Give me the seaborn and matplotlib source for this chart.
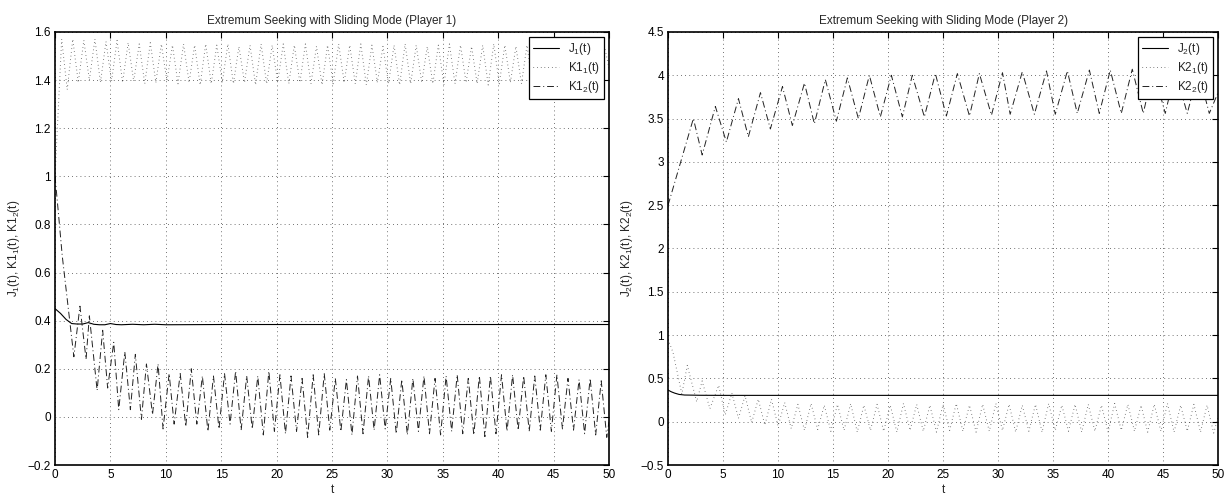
import numpy as np
import pandas as pd
import matplotlib
matplotlib.use("Agg")
import matplotlib.pyplot as plt
import seaborn as sns

# ---------------- Player 1 data ----------------
j1_t = [0, 0.5, 1.0, 1.5, 2.0, 2.5, 3.0, 3.5, 4.0, 4.5, 5.0, 5.5, 6, 7, 8, 9, 10, 15, 20, 30, 40, 50]
j1_v = [0.45, 0.43, 0.405, 0.388, 0.386, 0.386, 0.392, 0.385, 0.383, 0.383, 0.388, 0.384,
        0.383, 0.385, 0.383, 0.385, 0.383, 0.384, 0.384, 0.384, 0.384, 0.384]

k11_peak_t = [0.6, 1.6, 2.6, 3.6, 4.6, 5.6, 6.6, 7.6, 8.6, 9.6, 10.6, 11.6, 12.6, 13.6, 14.6,
              15.6, 16.6, 17.6, 18.6, 19.6, 20.6, 21.6, 22.6, 23.6, 24.6, 25.6, 26.6, 27.6,
              28.6, 29.6, 30.6, 31.6, 32.6, 33.6, 34.6, 35.6, 36.6, 37.6, 38.6, 39.6, 40.6,
              41.6, 42.6, 43.6, 44.6, 45.6, 46.6, 47.6, 48.6, 49.6]
k11_peak_v = [1.57, 1.57, 1.565, 1.57, 1.56, 1.565, 1.555, 1.55, 1.555, 1.55,
              1.545, 1.55, 1.545, 1.55, 1.545, 1.55, 1.54, 1.545, 1.55, 1.545,
              1.55, 1.545, 1.55, 1.54, 1.545, 1.55, 1.545, 1.55, 1.545, 1.54,
              1.545, 1.55, 1.545, 1.54, 1.545, 1.55, 1.545, 1.54, 1.545, 1.55,
              1.545, 1.54, 1.545, 1.55, 1.545, 1.54, 1.545, 1.55, 1.545, 1.54]
k11_trough_t = [1.1, 2.1, 3.1, 4.1, 5.1, 6.1, 7.1, 8.1, 9.1, 10.1, 11.1, 12.1, 13.1, 14.1,
                15.1, 16.1, 17.1, 18.1, 19.1, 20.1, 21.1, 22.1, 23.1, 24.1, 25.1, 26.1, 27.1,
                28.1, 29.1, 30.1, 31.1, 32.1, 33.1, 34.1, 35.1, 36.1, 37.1, 38.1, 39.1, 40.1,
                41.1, 42.1, 43.1, 44.1, 45.1, 46.1, 47.1, 48.1, 49.1]
k11_trough_v = [1.36, 1.39, 1.40, 1.39, 1.395, 1.39, 1.395, 1.385, 1.39, 1.395,
                1.385, 1.39, 1.38, 1.385, 1.39, 1.385, 1.39, 1.38, 1.385, 1.39,
                1.385, 1.39, 1.385, 1.38, 1.385, 1.39, 1.385, 1.38, 1.39, 1.385,
                1.38, 1.385, 1.39, 1.385, 1.38, 1.385, 1.39, 1.385, 1.38, 1.385,
                1.39, 1.385, 1.38, 1.385, 1.39, 1.385, 1.38, 1.385, 1.39]
k11_start = (0.0, 1.0)
k11_end = (50.0, 1.45)

k12_early_t = [0, 0.3, 0.65, 1.2, 1.7, 2.25, 2.8, 3.1, 3.8, 4.3, 4.75, 5.3, 5.75, 6.3, 6.8,
               7.25, 7.8, 8.25, 8.8, 9.3, 9.75, 10.3, 10.75, 11.3, 11.8, 12.3, 12.8, 13.3,
               13.8, 14.3, 14.8]
k12_early_v = [1.0, 0.85, 0.67, 0.45, 0.25, 0.46, 0.24, 0.42, 0.11, 0.36, 0.12, 0.31, 0.03,
               0.27, 0.03, 0.26, -0.01, 0.22, 0.01, 0.22, -0.05, 0.18, -0.03, 0.18, -0.04,
               0.20, -0.03, 0.17, -0.06, 0.17, -0.05]
k12_peak_t = [15.3, 16.3, 17.3, 18.3, 19.3, 20.3, 21.3, 22.3, 23.3, 24.3, 25.3, 26.3, 27.3,
              28.3, 29.3, 30.3, 31.3, 32.3, 33.3, 34.3, 35.3, 36.3, 37.3, 38.3, 39.3, 40.3,
              41.3, 42.3, 43.3, 44.3, 45.3, 46.3, 47.3, 48.3, 49.3]
k12_peak_v = [0.18, 0.19, 0.17, 0.17, 0.19, 0.175, 0.17, 0.16, 0.175, 0.18, 0.16, 0.155,
              0.17, 0.17, 0.175, 0.16, 0.155, 0.16, 0.17, 0.16, 0.17, 0.175, 0.16, 0.17,
              0.17, 0.175, 0.175, 0.17, 0.17, 0.175, 0.175, 0.16, 0.155, 0.16, 0.15]
k12_trough_t = [15.8, 16.8, 17.8, 18.8, 19.8, 20.8, 21.8, 22.8, 23.8, 24.8, 25.8, 26.8,
                27.8, 28.8, 29.8, 30.8, 31.8, 32.8, 33.8, 34.8, 35.8, 36.8, 37.8, 38.8,
                39.8, 40.8, 41.8, 42.8, 43.8, 44.8, 45.8, 46.8, 47.8, 48.8, 49.8]
k12_trough_v = [-0.03, -0.055, -0.05, -0.075, -0.06, -0.07, -0.06, -0.085, -0.075, -0.055,
                -0.06, -0.075, -0.07, -0.055, -0.05, -0.07, -0.075, -0.06, -0.07, -0.075,
                -0.06, -0.07, -0.075, -0.082, -0.07, -0.06, -0.055, -0.06, -0.055, -0.06,
                -0.05, -0.055, -0.07, -0.075, -0.085]
k12_end = (50.0, -0.02)

# ---------------- Player 2 data ----------------
j2_t = [0, 0.3, 0.6, 1.0, 1.5, 2, 3, 5, 10, 20, 30, 40, 50]
j2_v = [0.365, 0.345, 0.33, 0.315, 0.308, 0.307, 0.305, 0.304, 0.304, 0.304, 0.304, 0.304, 0.304]

k21_early_t = [0, 0.45, 1.25, 1.75, 2.6, 3.1, 3.8, 4.6, 5.2, 5.8, 6.4, 7.0, 7.6, 8.2, 8.8,
               9.4, 10.0]
k21_early_v = [0.95, 0.8, 0.32, 0.65, 0.23, 0.47, 0.15, 0.42, 0.08, 0.33, 0.04, 0.30, -0.01,
               0.26, -0.04, 0.26, -0.05]
k21_peak_t = [10.6, 11.8, 13.0, 14.2, 15.4, 16.6, 17.8, 19.0, 20.2, 21.4, 22.6, 23.8, 25.0,
              26.2, 27.4, 28.6, 29.8, 31.0, 32.2, 33.4, 34.6, 35.8, 37.0, 38.2, 39.4, 40.6,
              41.8, 43.0, 44.2, 45.4, 46.6, 47.8, 49.0]
k21_peak_v = [0.22, 0.2, 0.21, 0.19, 0.2, 0.21, 0.19, 0.2, 0.19, 0.21, 0.2, 0.19, 0.2,
              0.21, 0.19, 0.2, 0.21, 0.2, 0.19, 0.2, 0.21, 0.19, 0.2, 0.2, 0.19, 0.21,
              0.2, 0.19, 0.2, 0.21, 0.19, 0.2, 0.19]
k21_trough_t = [11.2, 12.4, 13.6, 14.8, 16.0, 17.2, 18.4, 19.6, 20.8, 22.0, 23.2, 24.4,
                25.6, 26.8, 28.0, 29.2, 30.4, 31.6, 32.8, 34.0, 35.2, 36.4, 37.6, 38.8,
                40.0, 41.2, 42.4, 43.6, 44.8, 46.0, 47.2, 48.4, 49.6]
k21_trough_v = [-0.08, -0.1, -0.09, -0.11, -0.1, -0.12, -0.1, -0.11, -0.12, -0.1, -0.11,
                -0.12, -0.1, -0.11, -0.12, -0.11, -0.1, -0.12, -0.11, -0.12, -0.1, -0.11,
                -0.12, -0.11, -0.12, -0.1, -0.11, -0.12, -0.11, -0.12, -0.11, -0.12, -0.13]
k21_end = (50.0, 0.05)

k22_t = [0, 2.3, 3.1, 4.3, 5.3, 6.4, 7.3, 8.4, 9.3, 10.4, 11.3, 12.4, 13.3, 14.3, 15.3, 16.3,
         17.3, 18.3, 19.3, 20.3, 21.3, 22.2, 23.3, 24.3, 25.3, 26.3, 27.4, 28.3, 29.4, 30.4,
         31.1, 32.2, 33.3, 34.4, 35.2, 36.3, 37.2, 38.3, 39.2, 40.2, 41.2, 42.2, 43.2, 44.1,
         45.2, 46.1, 47.2, 48.2, 49.2, 50.0]
k22_v = [2.5, 3.5, 3.08, 3.64, 3.23, 3.73, 3.29, 3.8, 3.38, 3.87, 3.42, 3.91, 3.44, 3.95,
         3.47, 3.97, 3.5, 4.0, 3.52, 4.0, 3.52, 4.0, 3.52, 4.02, 3.53, 4.02, 3.53, 4.02,
         3.54, 4.03, 3.55, 4.04, 3.55, 4.05, 3.55, 4.05, 3.56, 4.06, 3.56, 4.06, 3.56, 4.07,
         3.56, 4.07, 3.56, 4.05, 3.56, 4.05, 3.56, 3.8]


def interleave(start, a_t, a_v, b_t, b_v, end=None):
    pts = [start] if start is not None else []
    pts += list(zip(a_t, a_v)) + list(zip(b_t, b_v))
    if end is not None:
        pts.append(end)
    pts.sort(key=lambda p: p[0])
    return pd.DataFrame(pts, columns=["t", "v"])


df_j1 = pd.DataFrame({"t": j1_t, "v": j1_v})
df_k11 = interleave(k11_start, k11_peak_t, k11_peak_v, k11_trough_t, k11_trough_v, k11_end)
df_k12 = pd.concat([pd.DataFrame({"t": k12_early_t, "v": k12_early_v}),
                    interleave(None, k12_peak_t, k12_peak_v, k12_trough_t, k12_trough_v, k12_end)],
                   ignore_index=True)
df_j2 = pd.DataFrame({"t": j2_t, "v": j2_v})
df_k21 = pd.concat([pd.DataFrame({"t": k21_early_t, "v": k21_early_v}),
                    interleave(None, k21_peak_t, k21_peak_v, k21_trough_t, k21_trough_v, k21_end)],
                   ignore_index=True)
df_k22 = pd.DataFrame({"t": k22_t, "v": k22_v})

sns.set_style("white")
plt.rcParams['font.family'] = ['Liberation Sans', 'DejaVu Sans']
plt.rcParams['mathtext.fontset'] = 'custom'
plt.rcParams['mathtext.rm'] = 'Liberation Sans'
plt.rcParams['mathtext.it'] = 'Liberation Sans:italic'
plt.rcParams['mathtext.default'] = 'regular'

fig = plt.figure(figsize=(12.31, 4.96), dpi=100)
ax1 = fig.add_axes([0.0447, 0.0625, 0.4500, 0.873])
ax2 = fig.add_axes([0.5427, 0.0625, 0.4468, 0.873])

solid = dict(color="black", linewidth=0.8, linestyle="-")
dotted = dict(color="#333333", linewidth=0.7, dashes=(0.6, 3.2))
dashdot = dict(color="#222222", linewidth=0.7, dashes=(7, 3, 1, 3))


def draw(ax, dfs, labels, ylim, yticks, title, ylabel):
    styles = [solid, dotted, dashdot]
    for d, lab, st in zip(dfs, labels, styles):
        st = dict(st)
        dashes = st.pop("dashes", None)
        sns.lineplot(data=d, x="t", y="v", ax=ax, estimator=None,
                     sort=False, legend=False, **st)
        if dashes is not None:
            ax.lines[-1].set_dashes(dashes)
        ax.lines[-1].set_label(lab)
    ax.set_xlim(0, 50)
    ax.set_ylim(*ylim)
    ax.set_xticks(np.arange(0, 51, 5))
    ax.set_yticks(yticks)
    ax.set_yticklabels([("%g" % y).replace("-", "\u2212") for y in yticks])
    ax.grid(True, color="#444444", linewidth=0.6, linestyle=(0, (1, 4)))
    ax.tick_params(direction="in", length=4, width=0.8, top=True, right=True,
                   labelsize=8.5, colors="black", pad=3)
    for s in ax.spines.values():
        s.set_color("black")
        s.set_linewidth(1.2)
    ax.set_title(title, fontsize=8.5, pad=6)
    ax.set_xlabel("t", fontsize=8.5, labelpad=2)
    ax.set_ylabel(ylabel, fontsize=8.5, labelpad=4)
    leg = ax.legend(loc="upper right", fontsize=8.5, frameon=True, fancybox=False,
                    edgecolor="black", framealpha=1, borderaxespad=0.4,
                    handlelength=2.2, handletextpad=0.8, borderpad=0.35, labelspacing=0.25)
    leg.get_frame().set_linewidth(0.9)


draw(ax1, [df_j1, df_k11, df_k12], [r"J$_1$(t)", r"K1$_1$(t)", r"K1$_2$(t)"],
     (-0.2, 1.6), np.round(np.arange(-0.2, 1.61, 0.2), 1),
     "Extremum Seeking with Sliding Mode (Player 1)", r"J$_1$(t), K1$_1$(t), K1$_2$(t)")
draw(ax2, [df_j2, df_k21, df_k22], [r"J$_2$(t)", r"K2$_1$(t)", r"K2$_2$(t)"],
     (-0.5, 4.5), np.round(np.arange(-0.5, 4.51, 0.5), 1),
     "Extremum Seeking with Sliding Mode (Player 2)", r"J$_2$(t), K2$_1$(t), K2$_2$(t)")

fig.savefig("out.png", dpi=100)
